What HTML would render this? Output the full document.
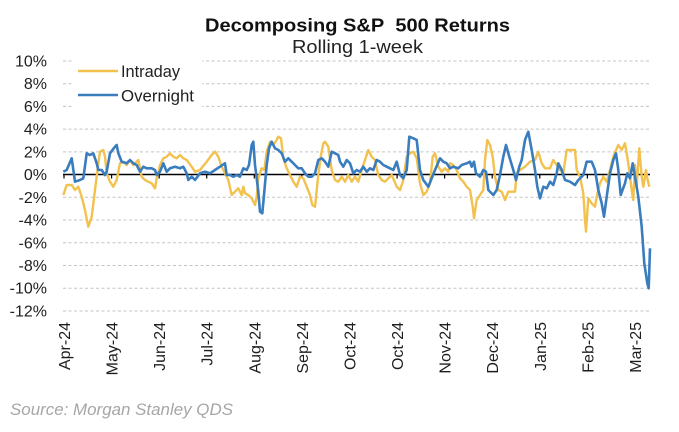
<!DOCTYPE html>
<html>
<head>
<meta charset="utf-8">
<style>
html,body{margin:0;padding:0;background:#fff;}
svg{display:block;}
text{font-family:"Liberation Sans",Arial,sans-serif;}
</style>
</head>
<body>
<svg width="679" height="432" viewBox="0 0 679 432" xmlns="http://www.w3.org/2000/svg">
<rect x="0" y="0" width="679" height="432" fill="#fff"/>
<!-- gridlines -->
<g stroke="#c4c4c4" stroke-width="1" stroke-dasharray="3 2.5">
<line x1="63" y1="61" x2="650" y2="61"/>
<line x1="63" y1="83.7" x2="650" y2="83.7"/>
<line x1="63" y1="106.4" x2="650" y2="106.4"/>
<line x1="63" y1="129.1" x2="650" y2="129.1"/>
<line x1="63" y1="151.9" x2="650" y2="151.9"/>
<line x1="63" y1="197.3" x2="650" y2="197.3"/>
<line x1="63" y1="220" x2="650" y2="220"/>
<line x1="63" y1="242.8" x2="650" y2="242.8"/>
<line x1="63" y1="265.5" x2="650" y2="265.5"/>
<line x1="63" y1="288.2" x2="650" y2="288.2"/>
<line x1="63" y1="311" x2="650" y2="311"/>
</g>
<!-- legend background -->
<rect x="72" y="55" width="130" height="60" fill="#fff"/>
<!-- title -->
<text x="357.5" y="31.7" text-anchor="middle" font-size="18" font-weight="bold" fill="#111" textLength="305" lengthAdjust="spacingAndGlyphs">Decomposing S&amp;P&#160; 500 Returns</text>
<text x="357.5" y="53" text-anchor="middle" font-size="18" fill="#222" textLength="131" lengthAdjust="spacingAndGlyphs">Rolling 1-week</text>
<!-- y labels -->
<g font-size="16" fill="#1e1e1e" text-anchor="end">
<text x="47" y="66.5">10%</text>
<text x="47" y="89.2">8%</text>
<text x="47" y="111.9">6%</text>
<text x="47" y="134.6">4%</text>
<text x="47" y="157.4">2%</text>
<text x="47" y="180.1">0%</text>
<text x="47" y="202.8">-2%</text>
<text x="47" y="225.5">-4%</text>
<text x="47" y="248.3">-6%</text>
<text x="47" y="271">-8%</text>
<text x="47" y="293.7">-10%</text>
<text x="47" y="316.5">-12%</text>
</g>
<!-- zero axis -->
<line x1="63" y1="174.5" x2="650" y2="174.5" stroke="#000" stroke-width="1.5"/>
<g stroke="#000" stroke-width="1.2">
<line x1="64" y1="174.5" x2="64" y2="178.5"/>
<line x1="111.6" y1="174.5" x2="111.6" y2="178.5"/>
<line x1="159.2" y1="174.5" x2="159.2" y2="178.5"/>
<line x1="206.7" y1="174.5" x2="206.7" y2="178.5"/>
<line x1="254.3" y1="174.5" x2="254.3" y2="178.5"/>
<line x1="301.9" y1="174.5" x2="301.9" y2="178.5"/>
<line x1="349.5" y1="174.5" x2="349.5" y2="178.5"/>
<line x1="397.1" y1="174.5" x2="397.1" y2="178.5"/>
<line x1="444.6" y1="174.5" x2="444.6" y2="178.5"/>
<line x1="492.2" y1="174.5" x2="492.2" y2="178.5"/>
<line x1="539.8" y1="174.5" x2="539.8" y2="178.5"/>
<line x1="587.4" y1="174.5" x2="587.4" y2="178.5"/>
<line x1="635" y1="174.5" x2="635" y2="178.5"/>
</g>
<!-- Intraday -->
<polyline fill="none" stroke="#F2C14E" stroke-width="2.4" stroke-linejoin="round" points="
63.3,195 66.7,185 71.7,185 75,190 78.3,186.7 81.7,196.7 85,210 88.3,226.7 91.7,216.7 95,190 98.3,163.3 100,151.7 103.3,150 105,156.7 106.7,173.3 110,181.7 113.3,186.7 116.7,180 120,163.3 123.3,161.7 126.7,165 130,160 133.3,165 138.3,160 141.7,176.7 145,180 148.3,181.7 151.7,183.3 155,188.3 156.7,178.3 160,165 163.3,158.3 166.7,156.7 170,153.3 173.3,156.7 176.7,158.3 180,155 183.3,158.3 186.7,160 191.7,166.7 195,171.7 200,170 206.7,161.7 211.7,155 215,151.7 218.3,156.7 221.7,166.7 225,173.3
228.3,180 231.7,195 235,191.7 238.3,188.3 241.7,195 243.3,186.7 245,193.3 248.3,195 251.7,198.3 255,205 256.7,196.7 258.3,178.3 261.7,168.3 264.3,170 266.7,151.7 270,141.7 273.3,145 276.7,140 278.3,136.7 281,138.3 283.3,158.3 286.7,168.3 290,175 293.3,181.7 296.7,186.7 300,176.7 303.3,178.3 306.7,186.7 310,195 312.3,205 315,206.7 318.3,175 321,155 323.3,143.3 325,141.7
328.3,146.7 331.7,170 335,180 338.3,181.7 341.7,176.7 345,181.7 348.3,175 351.7,181.7 355,176.7 358.3,181.7 361.7,170 365,160 368.3,150 371.7,156.7 375,160 378.3,175 381.7,180 385,181.7 388.3,178.3 391.7,175 396.7,186.7 400,190 403.3,180 406.7,156.7 410,153.3 413.3,151.7 416.7,158.3 420,183.3 423.3,195 426.7,191.7 430,183.3 432.7,156.7 435,153.3 438.3,166.7 441.7,171.7 445,168.3 448.3,171.7
450,163.3 453.3,165 456.7,170 460,178.3 463.3,181.7 466.7,186.7 470,190 472.7,206.7 474,218.3 476.7,200 480,195 483.3,190 485,160 487.3,140 490,145 492.7,156.7 495,176.7 498.3,190 501.7,191.7 505,200 508.3,191.7 511.7,191.7 515,191.7 516.7,173.3 520,170 525,166.7 530,161.7 535,160 538.3,151.7 541.7,163.3 545,168.3 550,168.3 553.3,160 556.7,165 560,170 563.3,173.3 566.7,150 571.7,150 575,150 576.7,170 580,176.7 583.3,193.3 585,220 586,231.7 588.3,198.3 591.7,203.3 595,206.7 596.7,196.7 600,183.3 603.3,176.7 606.7,181.7 610,170 613.3,156.7 618.3,145 621.7,150 625,143.3 628.3,163.3 631.7,190 633.3,200 635,165 636.7,186.7 639.3,148.3 641.7,176.7 643.3,186.7 646,170 647.3,178.3 649.3,186.7"/>
<!-- Overnight -->
<polyline fill="none" stroke="#3A7DBF" stroke-width="2.6" stroke-linejoin="round" points="
63.3,171.7 66.7,170 71.7,158.3 75,181.7 80,180 83.3,178.3 86.7,153.3 90,155 93.3,153.3 95,158.3 96.7,163.3 98.3,170 101.7,170 105,175 106.7,171.7 110,153.3 115,146.7 116.7,145 118.3,153.3 121.7,161.7 126.7,163.3 130,160 133.3,163.3 136.7,165 140,171.7 143.3,166.7 146.7,168.3 151.7,168.3 155,170 156.7,175 160,171.7 163.3,163.3 166.7,171.7 170,168.3 175,166.7 180,168.3 183.3,166.7 186.7,173.3 188.3,180 191.7,176.7 195,180 200,173.3 205,171.7 210,173.3 215,170 220,166.7 225,163.3
226.7,175 230,175 233.3,176.7 236.7,175 240,176.7 243.3,168.3 246.7,170 249,165 251.7,145 253.3,141.7 255,165 256.7,178.3 258.3,191.7 260,211.7 262.3,213.3 264.3,191.7 266.7,165 269,148.3 271.7,141.7 275,148.3 278.3,150 281.7,153.3 285,161.7 288.3,158.3 291.7,161.7 295,165 298.3,168.3 301.7,168.3 305,173.3 308.3,176.7 311.7,176.7 315,173.3 318.3,160 321.7,158.3 325,161.7
328.3,166.7 331.7,151.7 335,153.3 338.3,155 340,161.7 343.3,166.7 346.7,160 350,163.3 353.3,173.3 356.7,170 360,171.7 363.3,166.7 366.7,171.7 370,168.3 373.3,170 376.7,160 380,161.7 383.3,165 386.7,166.7 390,168.3 393.3,170 396.7,161.7 400,175 403.3,178.3 406.7,170 409.3,136.7 413.3,138.3 416.7,140 420,170 423.3,180 428.3,186.7 431.7,178.3 435,170 440,158.3 443.3,161.7 446.7,163.3 450,168.3
453.3,166.7 458.3,168.3 461.7,165 466.7,163.3 470,161.7 471.7,166.7 474,161.7 476,173.3 480,176.7 483.3,170 486,171.7 488.3,190 493.3,195 496.7,190 500,175 503.3,156.7 506,145 509.3,156.7 513.3,170 516,180 519.3,166.7 521.7,160 525,140 528.3,131.7 531.7,150 535,170 537.3,186.7 540,198.3 543.3,186.7 546.7,188.3 550,181.7 553.3,185 556.7,173.3 558.3,163.3 561.7,170 565,180 570,181.7 575,185 578.3,180 581.7,176.7 583.3,175 586.7,161.7 591.7,161.7 595,170 598.3,190 601.7,203.3 604,216.7 606.7,196.7 610,173.3 613.3,160 616,153.3 618.3,170 620.7,195 625,183.3 627.3,173.3 630,178.3 632.7,163.3 635,176.7 638.3,196.7 641.7,226.7 644.3,263.3 647.3,283.3 648.7,288.3 650,248.3"/>
<!-- legend -->
<line x1="78" y1="71" x2="118" y2="71" stroke="#F2C14E" stroke-width="2.4"/>
<line x1="78" y1="95" x2="118" y2="95" stroke="#3A7DBF" stroke-width="2.4"/>
<text x="121" y="77" font-size="16.5" fill="#222" textLength="59" lengthAdjust="spacingAndGlyphs">Intraday</text>
<text x="121" y="101.5" font-size="16.5" fill="#222" textLength="73" lengthAdjust="spacingAndGlyphs">Overnight</text>
<!-- x labels -->
<g font-size="16" fill="#1e1e1e" text-anchor="end">
<text transform="translate(70,322) rotate(-90)">Apr-24</text>
<text transform="translate(117.6,322) rotate(-90)">May-24</text>
<text transform="translate(165.2,322) rotate(-90)">Jun-24</text>
<text transform="translate(212.7,322) rotate(-90)">Jul-24</text>
<text transform="translate(260.3,322) rotate(-90)">Aug-24</text>
<text transform="translate(307.9,322) rotate(-90)">Sep-24</text>
<text transform="translate(355.5,322) rotate(-90)">Oct-24</text>
<text transform="translate(403.1,322) rotate(-90)">Oct-24</text>
<text transform="translate(450.6,322) rotate(-90)">Nov-24</text>
<text transform="translate(498.2,322) rotate(-90)">Dec-24</text>
<text transform="translate(545.8,322) rotate(-90)">Jan-25</text>
<text transform="translate(593.4,322) rotate(-90)">Feb-25</text>
<text transform="translate(641,322) rotate(-90)">Mar-25</text>
</g>
<!-- source -->
<text x="10" y="415" font-size="17" font-style="italic" fill="#a6a6a6" textLength="223" lengthAdjust="spacingAndGlyphs">Source: Morgan Stanley QDS</text>
</svg>
</body>
</html>
